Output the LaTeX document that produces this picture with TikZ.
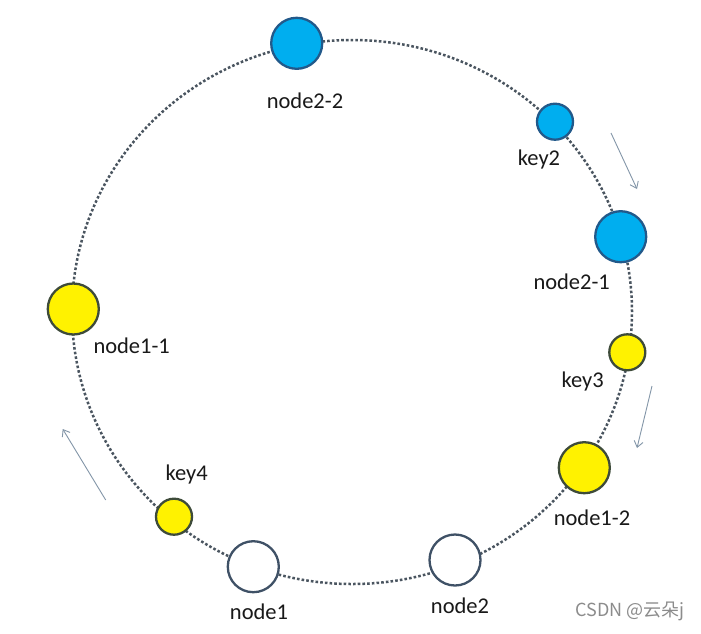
\documentclass[tikz,border=0pt]{standalone}
\usepackage{fontspec}
\setmainfont{Carlito}
\newfontfamily\cjkfont{Noto Sans CJK SC}
\usetikzlibrary{arrows.meta}
\definecolor{ringcol}{HTML}{4A5560}
\definecolor{bluefill}{HTML}{00AEEF}
\definecolor{blueline}{HTML}{22598A}
\definecolor{yellowline}{HTML}{3E4B3A}
\definecolor{whiteline}{HTML}{3F5166}
\definecolor{arrowcol}{HTML}{8396A8}
\tikzset{
  ring/.style={draw=ringcol, line width=2.5pt, dash pattern=on 2.6pt off 2.1pt},
  ball/.style={circle, inner sep=0pt, line width=2.3pt},
  bluenode/.style={ball, fill=bluefill, draw=blueline},
  yellownode/.style={ball, fill=yellow, draw=yellowline},
  whitenode/.style={ball, fill=white, draw=whiteline},
  big/.style={minimum size=51pt},
  small/.style={minimum size=36pt},
  lbl/.style={font=\fontsize{22.5}{25}\selectfont, text=black!90, inner sep=0pt},
  flow/.style={draw=arrowcol, line width=0.9pt, -{Straight Barb[length=6pt,width=9pt]}}
}
\begin{document}
\begin{tikzpicture}[x=1pt,y=-1pt]
\useasboundingbox (0,0) rectangle (701,633);
\fill[white] (0,0) rectangle (701,633);
\draw[ring] (352,312) ellipse [x radius=280pt, y radius=272pt];

\node[bluenode, big] (n22) at (296.7,43.3) {};
\node[bluenode, small] (k2) at (555,121.7) {};
\node[bluenode, big] (n21) at (620.7,236.7) {};
\node[yellownode, small] (k3) at (627.3,352.3) {};
\node[yellownode, big] (n12) at (584.3,467.7) {};
\node[whitenode, big] (n2) at (455,560) {};
\node[whitenode, big] (n1) at (253.3,566.7) {};
\node[yellownode, small] (k4) at (174,516.7) {};
\node[yellownode, big] (n11) at (73.3,309) {};

\node[lbl] (ln22) at (305,100.7) {node2-2};
\node[lbl] (lk2) at (539,159) {key2};
\node[lbl] (ln21) at (571.7,281.7) {node2-1};
\node[lbl] (lk3) at (582.7,381.7) {key3};
\node[lbl] (ln12) at (592,518) {node1-2};
\node[lbl] (ln11) at (131.7,346) {node1-1};
\node[lbl] (lk4) at (186.7,474) {key4};
\node[lbl] (ln1) at (259,611.7) {node1};
\node[lbl] (ln2) at (460,605.7) {node2};

\coordinate (a1s) at (611,133);
\coordinate (a1e) at (637,189);
\coordinate (a2s) at (652,386);
\coordinate (a2e) at (637,448);
\coordinate (a3s) at (105.7,500);
\coordinate (a3e) at (62.7,429);
\draw[flow] (a1s) -- (a1e);
\draw[flow] (a2s) -- (a2e);
\draw[flow] (a3s) -- (a3e);

\node[font=\cjkfont\fontsize{18}{20}\selectfont, text=black!45, inner sep=0pt] (wm) at (630,611) {CSDN @云朵j};
\end{tikzpicture}
\end{document}
